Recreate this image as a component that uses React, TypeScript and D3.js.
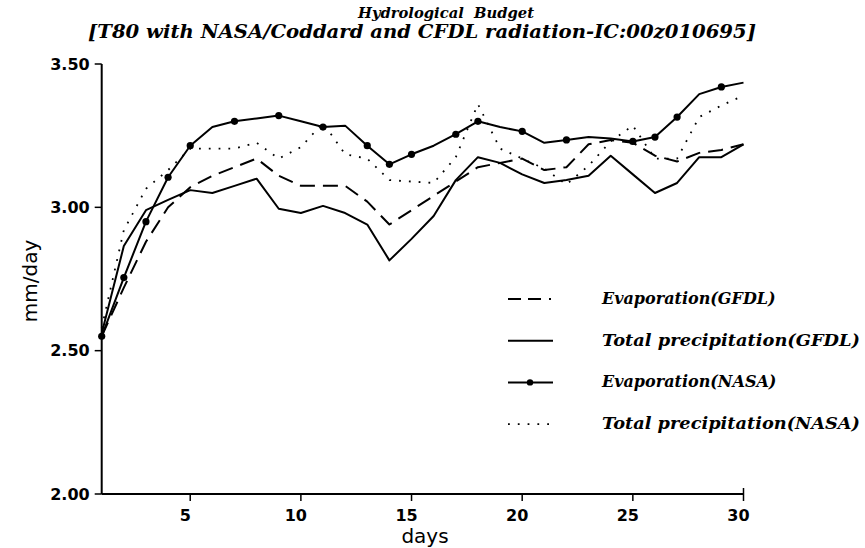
import React from "react";
import * as d3 from "d3";

// days 1..30
const days = d3.range(1, 31);

const evapGFDL = [
  2.55, 2.72, 2.88, 3.0, 3.07, 3.11, 3.14, 3.17, 3.11, 3.075,
  3.075, 3.075, 3.02, 2.94, 2.99, 3.04, 3.09, 3.14, 3.155, 3.17,
  3.13, 3.14, 3.22, 3.235, 3.225, 3.18, 3.16, 3.19, 3.2, 3.22,
];
const precipGFDL = [
  2.56, 2.865, 2.99, 3.026, 3.06, 3.05, 3.075, 3.1, 2.995, 2.98,
  3.005, 2.98, 2.94, 2.815, 2.89, 2.97, 3.095, 3.175, 3.155, 3.115,
  3.085, 3.095, 3.11, 3.18, 3.115, 3.05, 3.085, 3.175, 3.175, 3.22,
];
const evapNASA = [
  2.55, 2.755, 2.95, 3.105, 3.215, 3.28, 3.3, 3.31, 3.32, 3.3,
  3.28, 3.285, 3.215, 3.15, 3.185, 3.215, 3.255, 3.3, 3.28, 3.265,
  3.225, 3.235, 3.245, 3.24, 3.23, 3.245, 3.315, 3.395, 3.42, 3.435,
];
const precipNASA = [
  2.58, 2.92, 3.065, 3.13, 3.205, 3.205, 3.205, 3.225, 3.17, 3.21,
  3.295, 3.185, 3.17, 3.095, 3.09, 3.085, 3.175, 3.36, 3.205, 3.17,
  3.135, 3.08, 3.145, 3.23, 3.285, 3.17, 3.17, 3.315, 3.355, 3.39,
];
// days on which the NASA evaporation curve carries a marker
const markerDays = [1, 2, 3, 4, 5, 7, 9, 11, 13, 14, 15, 17, 18, 20, 22, 25, 26, 27, 29];

const xTicks = [5, 10, 15, 20, 25, 30];
const yTicks = [2.0, 2.5, 3.0, 3.5];

const series = [
  { name: "Evaporation(GFDL)", values: evapGFDL, dash: "15 8", legendDash: "13 7 13 8 2 20", width: 2, marker: false },
  { name: "Total precipitation(GFDL)", values: precipGFDL, dash: null, legendDash: null, width: 2, marker: false },
  { name: "Evaporation(NASA)", values: evapNASA, dash: null, legendDash: null, width: 2, marker: true },
  { name: "Total precipitation(NASA)", values: precipNASA, dash: "1.8 8", legendDash: "1.8 8", width: 1.8, marker: false },
];
// stretched widths for the long legend labels (short ones keep their own width)
const legendWidths = [null, 258, null, 258];

const W = 865;
const H = 548;
const x = d3.scaleLinear().domain([1, 30]).range([101.7, 743.5]);
const y = d3.scaleLinear().domain([2.0, 3.5]).range([494, 64]);

const sans = "'DejaVu Sans', sans-serif";
const serif = "'DejaVu Serif', serif";

export default function App() {
  const line = d3
    .line<number>()
    .x((_, i) => x(days[i]))
    .y((d) => y(d));

  return (
    <svg
      width={W}
      height={H}
      style={{ position: "absolute", left: 0, top: 0, background: "#fff" }}
    >
      {/* titles */}
      <text x={446} y={18} textAnchor="middle" fontFamily={serif} fontStyle="italic"
        fontWeight="bold" fontSize={15} textLength={176} lengthAdjust="spacingAndGlyphs"
        style={{ whiteSpace: "pre" }}>
        {"Hydrological  Budget"}
      </text>
      <text x={422} y={38} textAnchor="middle" fontFamily={serif} fontStyle="italic"
        fontWeight="bold" fontSize={18} textLength={668} lengthAdjust="spacingAndGlyphs">
        [T80 with NASA/Coddard and CFDL radiation-IC:00z010695]
      </text>

      {/* axes */}
      <line x1={x(1)} x2={x(1)} y1={y(3.5)} y2={y(2.0)} stroke="#000" strokeWidth={2} />
      <line x1={x(1)} x2={x(30)} y1={y(2.0)} y2={y(2.0)} stroke="#000" strokeWidth={2} />
      {yTicks.map((t) => (
        <g key={t}>
          <line x1={x(1) - 7} x2={x(1)} y1={y(t)} y2={y(t)} stroke="#000" strokeWidth={1.5} />
          <text x={x(1) - 12} y={y(t)} dy="0.36em" textAnchor="end" fontFamily={sans}
            fontSize={16} fontWeight="bold">
            {t.toFixed(2)}
          </text>
        </g>
      ))}
      {xTicks.map((t) => (
        <g key={t}>
          <line x1={x(t)} x2={x(t)} y1={y(2.0) + (t === 30 ? -6 : 0)} y2={y(2.0) + 7}
            stroke="#000" strokeWidth={1.5} />
          <text x={x(t) - 5} y={y(2.0) + 27} textAnchor="middle" fontFamily={sans}
            fontSize={16} fontWeight="bold">
            {t}
          </text>
        </g>
      ))}
      <text x={425} y={543} textAnchor="middle" fontFamily={sans} fontSize={20}>
        days
      </text>
      <text transform="translate(37,281) rotate(-90)" textAnchor="middle" fontFamily={sans}
        fontSize={20}>
        mm/day
      </text>

      {/* curves */}
      {series.map((s) => (
        <path key={s.name} d={line(s.values) ?? ""} fill="none" stroke="#000"
          strokeWidth={s.width} strokeDasharray={s.dash ?? undefined}
          strokeLinejoin="round" />
      ))}
      {markerDays.map((d) => (
        <circle key={d} cx={x(d)} cy={y(evapNASA[d - 1])} r={3.6} fill="#000" />
      ))}

      {/* legend */}
      {series.map((s, i) => {
        const ly = 299 + i * 41.7;
        const tl = legendWidths[i];
        return (
          <g key={s.name}>
            <line x1={508} x2={553} y1={ly} y2={ly} stroke="#000" strokeWidth={s.width}
              strokeDasharray={s.legendDash ?? undefined} />
            {s.marker && <circle cx={530} cy={ly} r={3.2} fill="#000" />}
            <text x={602} y={ly + 5} fontFamily={serif} fontStyle="italic" fontWeight="bold"
              fontSize={16} textLength={tl ?? undefined}
              lengthAdjust={tl ? "spacingAndGlyphs" : undefined}>
              {s.name}
            </text>
          </g>
        );
      })}
    </svg>
  );
}
